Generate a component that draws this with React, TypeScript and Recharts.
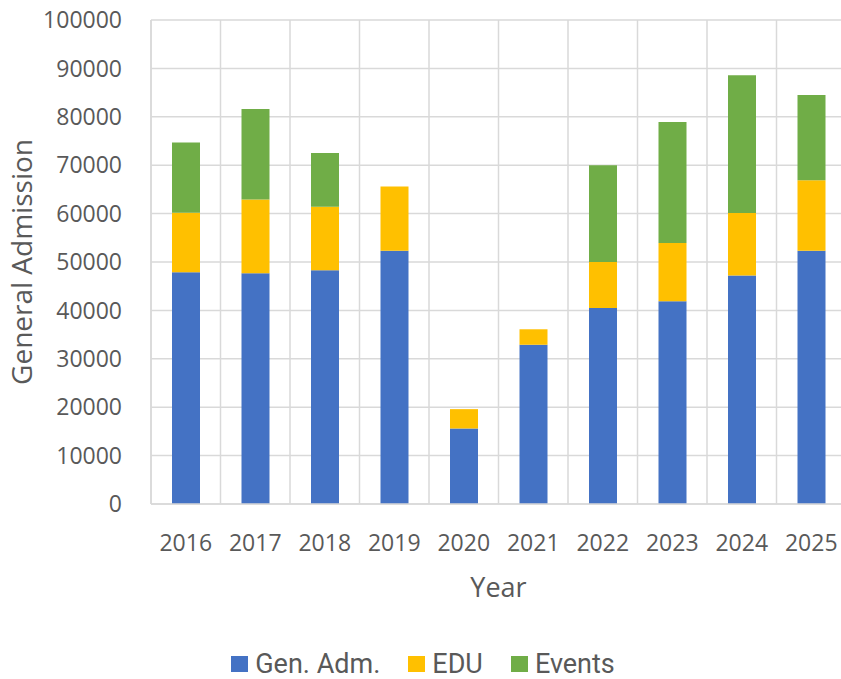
import { BarChart, Bar, XAxis, YAxis, CartesianGrid } from "recharts";

const years = ["2016", "2017", "2018", "2019", "2020", "2021", "2022", "2023", "2024", "2025"];
const genAdm = [47900, 47700, 48300, 52300, 15600, 32900, 40500, 41900, 47200, 52300];
const edu = [12300, 15200, 13100, 13300, 4000, 3200, 9500, 12000, 12900, 14600];
const events = [14500, 18700, 11100, 0, 0, 0, 20000, 25000, 28500, 17600];
const yTicks = [0, 10000, 20000, 30000, 40000, 50000, 60000, 70000, 80000, 90000, 100000];

const series = [
  { key: "genAdm", name: "Gen. Adm.", color: "#4472C4" },
  { key: "edu", name: "EDU", color: "#FFC000" },
  { key: "events", name: "Events", color: "#70AD47" },
];

const data = years.map((year, i) => ({
  year,
  genAdm: genAdm[i],
  edu: edu[i],
  events: events[i],
}));

const FONT = "'Open Sans', 'Noto Sans', sans-serif";
const TEXT = "#595959";
const GRID = "#D9D9D9";

// grid lines sit between the categories, like Excel
const boundaries = ({ offset }: any) =>
  [...years, ""].map((_, i) => offset.left + (i * offset.width) / years.length);

export default function App() {
  return (
    <div
      style={{
        position: "absolute",
        left: 0,
        top: 0,
        width: 841,
        height: 679,
        overflow: "hidden",
        background: "#fff",
        fontFamily: FONT,
      }}
    >
      <BarChart width={860} height={679} data={data} margin={{ top: 20, right: 14, left: 0, bottom: 0 }}>
        <CartesianGrid stroke={GRID} strokeWidth={1.5} verticalCoordinatesGenerator={boundaries} />
        <XAxis
          dataKey="year"
          height={175}
          tickLine={false}
          tickSize={0}
          tickMargin={31}
          axisLine={{ stroke: GRID, strokeWidth: 1.5 }}
          tick={{ fill: TEXT, fontSize: 23, fontFamily: FONT }}
          label={{ value: "Year", position: "insideBottom", offset: 82, fill: TEXT, fontSize: 27, fontFamily: FONT }}
        />
        <YAxis
          width={151}
          domain={[0, 100000]}
          ticks={yTicks}
          interval={0}
          tickLine={false}
          tickSize={0}
          tickMargin={29}
          axisLine={{ stroke: GRID, strokeWidth: 1.5 }}
          tick={{ fill: TEXT, fontSize: 23, fontFamily: FONT }}
          label={{
            value: "General Admission",
            angle: -90,
            position: "insideLeft",
            offset: 22,
            fill: TEXT,
            fontSize: 28,
            fontFamily: FONT,
            style: { textAnchor: "middle" },
          }}
        />
        {series.map((s) => (
          <Bar key={s.key} dataKey={s.key} name={s.name} stackId="a" fill={s.color} barSize={28} isAnimationActive={false} />
        ))}
      </BarChart>
      <div
        style={{
          position: "absolute",
          top: 647,
          left: 0,
          width: 846,
          display: "flex",
          justifyContent: "center",
          gap: 28,
          color: TEXT,
          fontSize: 27,
          fontFamily: "Roboto, sans-serif",
          lineHeight: "34px",
        }}
      >
        {series.map((s) => (
          <div key={s.key} style={{ display: "flex", alignItems: "center", gap: 7 }}>
            <span style={{ width: 17, height: 16, background: s.color, display: "inline-block" }} />
            <span>{s.name}</span>
          </div>
        ))}
      </div>
    </div>
  );
}
